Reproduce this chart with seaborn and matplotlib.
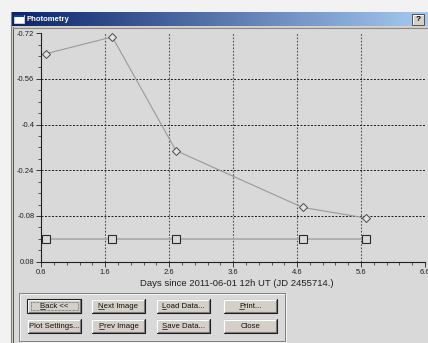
import numpy as np
import pandas as pd
import matplotlib
matplotlib.use("Agg")
import matplotlib.pyplot as plt
from matplotlib.patches import Rectangle
from matplotlib.ticker import MultipleLocator, FixedLocator
import seaborn as sns

# Photometry data: days since 2011-06-01 12h UT and differential magnitudes
days = [0.67, 1.71, 2.705, 4.685, 5.675]
target_mag = [-0.648, -0.707, -0.309, -0.110, -0.073]
check_mag = [0.0, 0.0, 0.0, 0.0, 0.0]

x_ticks = [0.6, 1.6, 2.6, 3.6, 4.6, 5.6, 6.6]
y_ticks = [-0.72, -0.56, -0.4, -0.24, -0.08, 0.08]
y_tick_labels = ["-0.72", "-0.56", "-0.4", "-0.24", "-0.08", "0.08"]

window_title = "Photometry"
x_label = "Days since 2011-06-01 12h UT (JD 2455714.)"
buttons = [
    ["Back <<", "Next Image", "Load Data...", "Print..."],
    ["Plot Settings...", "Prev Image", "Save Data...", "Close"],
]
underline_idx = [[0, 0, 0, 0], [None, 0, 0, None]]

sns.set_theme(style="white")
plt.rcParams["font.family"] = ["Liberation Sans", "DejaVu Sans"]

W, H = 428, 343
fig = plt.figure(figsize=(W / 100, H / 100), dpi=100)
fig.patch.set_facecolor("#f2f2f2")

# Chrome layer in pixel coordinates
chrome = fig.add_axes([0, 0, 1, 1], zorder=0)
chrome.set_xlim(0, W)
chrome.set_ylim(H, 0)
chrome.axis("off")

panel = "#d9d9d9"
# window body
chrome.add_patch(Rectangle((11, 12), W - 11, H - 12, facecolor="#d4d0c8", edgecolor="none"))
chrome.plot([11.5, 11.5], [12, H], color="#808080", lw=0.8)
chrome.plot([13, 13], [27, H], color="#404040", lw=0.6)
chrome.add_patch(Rectangle((13.5, 27.5), W - 13, H - 27, facecolor=panel, edgecolor="none"))
chrome.plot([13.5, W], [28, 28], color="#8a8a8a", lw=0.8)

# title bar gradient
grad = np.linspace(0, 1, 256).reshape(1, -1)
c0 = np.array([10, 36, 106]) / 255.0
c1 = np.array([166, 202, 240]) / 255.0
img = (c0[None, None, :] * (1 - grad[..., None]) + c1[None, None, :] * grad[..., None])
chrome.imshow(img, extent=(12, W, 26.5, 12.5), aspect="auto", zorder=1)
chrome.add_patch(Rectangle((14.5, 15), 9.5, 8, facecolor="white", edgecolor="#dfe8f5", lw=0.5, zorder=2))
chrome.add_patch(Rectangle((14.5, 15), 9.5, 2, facecolor="#1c3e8c", edgecolor="none", zorder=2))
chrome.text(27, 19.8, window_title, color="white", fontsize=5.6, fontweight="bold",
            ha="left", va="center", zorder=3)
# help button
chrome.add_patch(Rectangle((412, 14), 12, 11, facecolor="#d4d0c8", edgecolor="#404040", lw=0.6, zorder=2))
chrome.plot([412.6, 412.6, 423.4], [24.4, 14.6, 14.6], color="white", lw=0.6, zorder=3)
chrome.text(418, 19.8, "?", color="black", fontsize=6, fontweight="bold",
            ha="center", va="center", zorder=3)

# plot axes placed over the panel
x0, x1 = 41.3, 425.0
yb, yt = 261.7, 33.2
ax = fig.add_axes([x0 / W, (H - yb) / H, (x1 - x0) / W, (yb - yt) / H], zorder=2)
ax.set_facecolor(panel)

df_t = pd.DataFrame({"day": days, "mag": target_mag})
df_c = pd.DataFrame({"day": days, "mag": check_mag})

sns.lineplot(data=df_c, x="day", y="mag", ax=ax, color="#a8a8a8", lw=1.2,
             marker="s", markersize=6, markerfacecolor=panel,
             markeredgecolor="#2a2a2a", markeredgewidth=0.8, zorder=3)
sns.lineplot(data=df_t, x="day", y="mag", ax=ax, color="#9a9a9a", lw=0.8,
             marker="D", markersize=4.5, markerfacecolor="#e4e4e4",
             markeredgecolor="#4a4a4a", markeredgewidth=0.7, zorder=4)

ax.set_xlim(0.6, 6.6)
ax.set_ylim(0.08, -0.72)
ax.xaxis.set_major_locator(FixedLocator(x_ticks))
ax.yaxis.set_major_locator(FixedLocator(y_ticks))
ax.set_xticklabels([f"{t:.1f}" for t in x_ticks])
ax.set_yticklabels(y_tick_labels)
ax.xaxis.set_minor_locator(MultipleLocator(0.2))
ax.yaxis.set_minor_locator(MultipleLocator(0.04))
ax.tick_params(axis="both", which="major", length=3.5, width=0.6, color="#202020",
               labelsize=5.5, labelcolor="#202020", pad=1.5, direction="out")
ax.tick_params(axis="both", which="minor", length=2, width=0.5, color="#202020", direction="out")
ax.tick_params(axis="x", bottom=True, which="both")
ax.tick_params(axis="y", left=True, which="both")

for t in x_ticks[1:-1]:
    ax.axvline(t, color="#505050", lw=0.8, ls=(0, (1.5, 1.5)), zorder=1)
for t in y_ticks[1:-1]:
    ax.axhline(t, color="#1a1a1a", lw=0.7, ls=(0, (2, 1.6)), zorder=1)

for s in ["top", "right"]:
    ax.spines[s].set_visible(False)
for s in ["left", "bottom"]:
    ax.spines[s].set_color("#202020")
    ax.spines[s].set_linewidth(0.8)
ax.set_xlabel("")
ax.set_ylabel("")
ax.legend_ = None

chrome.text(237, 283.5, x_label, fontsize=6.8, color="#202020", ha="center", va="center", zorder=3)

# group box with buttons
chrome.add_patch(Rectangle((19.5, 292.5), 266, 48, facecolor="none", edgecolor="#808080", lw=0.7, zorder=3))
chrome.add_patch(Rectangle((20.5, 293.5), 266, 48, facecolor="none", edgecolor="white", lw=0.5, zorder=2))

btn_x = [28, 92, 157, 224]
btn_w = 53
btn_y = [299, 319]
btn_h = 13.5
fig.canvas.draw()
renderer = fig.canvas.get_renderer()
for r, row in enumerate(buttons):
    for c, label in enumerate(row):
        bx, by = btn_x[c], btn_y[r]
        focused = (r == 0 and c == 0)
        chrome.add_patch(Rectangle((bx, by), btn_w, btn_h, facecolor="#d4d0c8",
                                   edgecolor="none", zorder=4))
        chrome.plot([bx + 0.5, bx + 0.5, bx + btn_w - 1], [by + btn_h - 1, by + 0.5, by + 0.5],
                    color="white", lw=0.8, zorder=5)
        chrome.plot([bx + 1, bx + btn_w - 1, bx + btn_w - 1], [by + btn_h - 1, by + btn_h - 1, by + 1],
                    color="#808080", lw=0.8, zorder=5)
        chrome.plot([bx, bx + btn_w, bx + btn_w], [by + btn_h, by + btn_h, by],
                    color="#202020", lw=0.8, zorder=5)
        if focused:
            chrome.add_patch(Rectangle((bx - 0.5, by - 0.5), btn_w + 1, btn_h + 1, facecolor="none",
                                       edgecolor="#202020", lw=0.8, zorder=6))
            chrome.add_patch(Rectangle((bx + 3, by + 2.5), btn_w - 6, btn_h - 5, facecolor="none",
                                       edgecolor="#404040", lw=0.5, ls=(0, (1, 1)), zorder=6))
        cx, cy = bx + btn_w / 2, by + btn_h / 2 + 0.3
        txt = chrome.text(cx, cy, label, fontsize=5.6, color="#101010", ha="center",
                          va="center", zorder=7)
        ui = underline_idx[r][c]
        if ui is not None:
            bb = txt.get_window_extent(renderer)
            pre = chrome.text(0, 0, label[:ui], fontsize=5.6)
            ch = chrome.text(0, 0, label[ui], fontsize=5.6)
            pw = pre.get_window_extent(renderer).width if ui > 0 else 0
            cw = ch.get_window_extent(renderer).width
            pre.remove(); ch.remove()
            ux0 = bb.x0 + pw
            uy = by + btn_h / 2 + 3.6
            chrome.plot([ux0, ux0 + cw], [uy, uy], color="#101010", lw=0.5, zorder=7)

fig.savefig("out.png", dpi=100, facecolor=fig.get_facecolor())
